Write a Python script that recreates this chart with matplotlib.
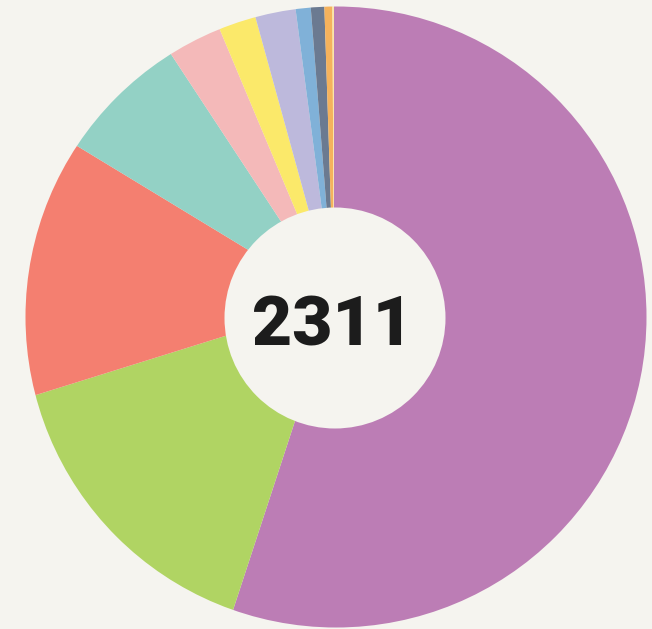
import matplotlib
matplotlib.use("Agg")
import matplotlib.pyplot as plt
from matplotlib.patches import Circle

# data (clockwise from 12 o'clock)
categories = ["A", "B", "C", "D", "E", "F", "G", "H", "I", "J", "K"]
values = [1272, 350, 312, 163, 68, 47, 51, 19, 17, 10, 2]
colors = ["#bc7db5", "#b0d463", "#f47f70", "#93d1c5", "#f4b9b9", "#fbe96a",
          "#bdb9dc", "#80b1d8", "#6b7a91", "#f5b25c", "#fbe7a6"]
total_label = str(sum(values))

BG = "#f5f4ef"
W, H = 652, 629
fig = plt.figure(figsize=(W / 100, H / 100), dpi=100, facecolor=BG)
ax = fig.add_axes([0, 0, 1, 1])
ax.set_facecolor(BG)
ax.axis("off")

# scale: 1 data unit = 310.5 px, outer circle centered at px (336, 317)
R = 310.5
cx, cy = 336, 317

wedges, _ = ax.pie(values, colors=colors, startangle=90, counterclock=False,
                   radius=1.1, center=((334 - cx) / R, (cy - 302) / R),
                   wedgeprops=dict(linewidth=0, antialiased=True))
clip = Circle((0, 0), 1.0, transform=ax.transData)
for w in wedges:
    w.set_clip_on(True)
    w.set_clip_path(clip)

ax.add_patch(Circle(((335 - cx) / R, (cy - 318) / R), 110.5 / R,
                    facecolor=BG, edgecolor="none", zorder=5))

ax.text((333 - cx) / R, (cy - 320) / R, total_label, ha="center", va="center_baseline",
        fontsize=50, fontweight="heavy", color="#1c1c1c",
        family=["Roboto", "Liberation Sans", "DejaVu Sans"], zorder=6)

ax.set_aspect("auto")
ax.set_xlim(-cx / R, (W - cx) / R)
ax.set_ylim((cy - H) / R, cy / R)
fig.savefig("out.png", dpi=100, facecolor=BG)
